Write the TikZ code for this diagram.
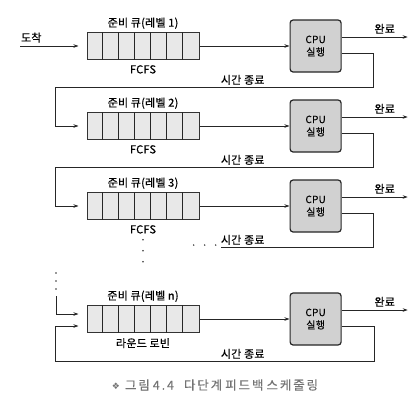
\documentclass[tikz,border=0pt]{standalone}
\usepackage{fontspec}
\setmainfont{Noto Sans CJK KR}[FakeBold=0.5, LetterSpace=2]
\newfontfamily\capfont{Noto Sans CJK KR}[FakeBold=0.3, LetterSpace=15]
\newfontfamily\symfont{DejaVu Sans}
\usetikzlibrary{shapes,arrows.meta,positioning}
\tikzstyle{queue} = [rectangle, draw=black!80, line width=1pt, fill=black!9,
minimum width=112pt, minimum height=27pt, inner sep=0pt]
\tikzstyle{cpu} = [rectangle, rounded corners=3pt, draw=black!85, line width=1.2pt, fill=black!18,
minimum width=51pt, minimum height=52pt, align=center, font=\fontsize{10}{12.5}\selectfont]
\tikzstyle{lbl} = [font=\fontsize{11}{12}\selectfont, inner sep=1pt]
\tikzstyle{flowLine} = [draw=black!85, line width=0.8pt]
\tikzstyle{flowArrow} = [flowLine, -{Stealth[length=5pt,width=3.5pt]}]
\tikzstyle{dotmark} = [circle, fill=black!80, inner sep=0pt, minimum size=1.6pt]

\begin{document}
\begin{tikzpicture}[x=1pt,y=1pt,node distance=80pt]
		\useasboundingbox (0,0) rectangle (419,-400);
		%queues
		\node[queue] (q1) at (143,-46) {};
		\node[queue, below of=q1] (q2) {};
		\node[queue, below of=q2] (q3) {};
		\node[queue, below of=q3, yshift=-33pt] (qn) {};
		\foreach \q in {q1,q2,q3,qn}
			\foreach \i in {1,...,6}
				\draw[flowLine, line width=1pt] ([xshift=\i*16pt]\q.north west) -- ([xshift=\i*16pt]\q.south west);
		
		%queue labels
		\node[lbl, above=2pt of q1] (q1name) {준비 큐(레벨 1)};
		\node[lbl, above=2pt of q2] (q2name) {준비 큐(레벨 2)};
		\node[lbl, above=2pt of q3] (q3name) {준비 큐(레벨 3)};
		\node[lbl, above=2pt of qn] (qnname) {준비 큐(레벨 n)};
		\node[lbl, below=4pt of q1] (q1rule) {FCFS};
		\node[lbl, below=4pt of q2] (q2rule) {FCFS};
		\node[lbl, below=4pt of q3] (q3rule) {FCFS};
		\node[lbl, below=4pt of qn] (qnrule) {라운드 로빈};
		
		%cpus
		\node[cpu, right=90pt of q1] (c1) {CPU\\실행};
		\node[cpu, right=90pt of q2] (c2) {CPU\\실행};
		\node[cpu, right=90pt of q3] (c3) {CPU\\실행};
		\node[cpu, right=90pt of qn] (cn) {CPU\\실행};
		
		%free ends
		\coordinate (arrive) at (20,-46);
		\coordinate (d1) at ([xshift=66pt,yshift=9pt]c1.east);
		\coordinate (d2) at ([xshift=66pt,yshift=9pt]c2.east);
		\coordinate (d3) at ([xshift=66pt,yshift=9pt]c3.east);
		\coordinate (dn) at ([xshift=66pt,yshift=9pt]cn.east);
		\coordinate (t1) at ([xshift=32pt,yshift=-41pt]c1.east);
		\coordinate (t2) at ([xshift=32pt,yshift=-41pt]c2.east);
		\coordinate (t3) at ([xshift=32pt,yshift=-41pt]c3.east);
		\coordinate (tn) at ([xshift=33pt,yshift=-42pt]cn.east);
		\coordinate (e3) at ([xshift=-153pt]t3);
		\coordinate (sn) at (56,-296);
		
		%arrows
		\draw[flowArrow] (arrive) -- node[lbl, above=2pt, xshift=-18pt]{도착} ([xshift=-8pt]q1.west);
		\draw[flowArrow] (q1) -- (c1);
		\draw[flowArrow] (q2) -- (c2);
		\draw[flowArrow] (q3) -- (c3);
		\draw[flowArrow] (qn) -- (cn);
		\draw[flowArrow] ([yshift=9pt]c1.east) -- node[lbl, above=2pt, xshift=10pt]{완료} (d1);
		\draw[flowArrow] ([yshift=9pt]c2.east) -- node[lbl, above=2pt, xshift=10pt]{완료} (d2);
		\draw[flowArrow] ([yshift=9pt]c3.east) -- node[lbl, above=2pt, xshift=10pt]{완료} (d3);
		\draw[flowArrow] ([yshift=9pt]cn.east) -- node[lbl, above=2pt, xshift=10pt]{완료} (dn);
		\draw[flowArrow] ([yshift=-7pt]c1.east) -| (t1) -| ([xshift=-31pt]q2.west) -- ([xshift=-8pt]q2.west);
		\draw[flowArrow] ([yshift=-7pt]c2.east) -| (t2) -| ([xshift=-31pt]q3.west) -- ([xshift=-8pt]q3.west);
		\draw[flowLine] ([yshift=-7pt]c3.east) -| (t3) -- (e3);
		\draw[flowArrow] (sn) |- ([xshift=-8pt,yshift=5pt]qn.west);
		\draw[flowArrow] ([yshift=-7pt]cn.east) -| (tn) -| ([xshift=-31pt,yshift=-7pt]qn.west) -- ([xshift=-8pt,yshift=-7pt]qn.west);
		
		%time-out labels
		\node[lbl, above=1pt of t1, xshift=-131pt] (to1) {시간 종료};
		\node[lbl, above=1pt of t2, xshift=-131pt] (to2) {시간 종료};
		\node[lbl, above=1pt of t3, xshift=-131pt] (to3) {시간 종료};
		\node[lbl, above=1pt of tn, xshift=-132pt] (ton) {시간 종료};
		
		%dots
		\foreach \k in {0,1,2} {
			\node[dotmark] at ([xshift=-5pt-\k*11pt,yshift=2pt]e3) {};
			\node[dotmark] at ([yshift=-5pt-\k*11pt]q3rule.south) {};
			\node[dotmark] at ([yshift=7pt+\k*8pt]sn) {};
		}
		
		%caption
		\node[font=\capfont\fontsize{12.5}{14}\selectfont, text=black!55] (caption) at (215,-385)
			{{\symfont\fontsize{9}{10}\selectfont ❖}\hspace{5pt}그림\hspace{3pt}4.4\hspace{10pt}다단계\hspace{3pt}피드백\hspace{3pt}스케줄링};
	\end{tikzpicture}
\end{document}
